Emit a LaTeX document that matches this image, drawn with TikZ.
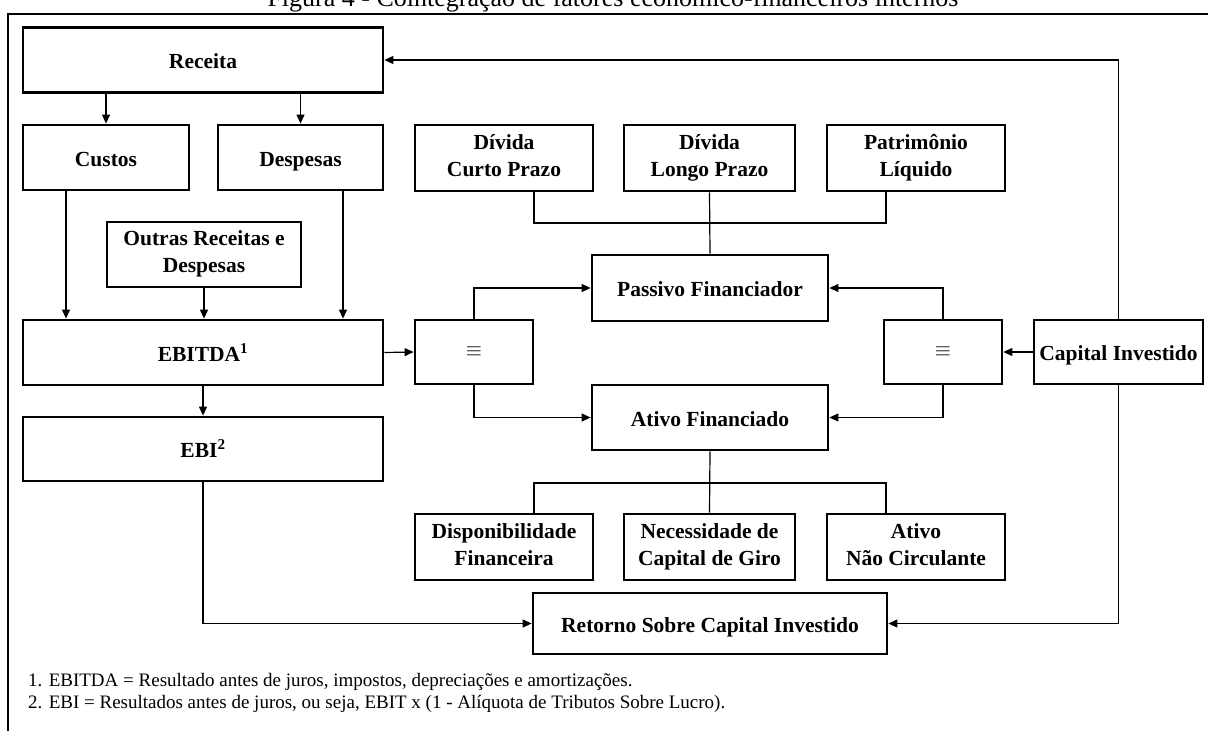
\documentclass[tikz,border=0pt]{standalone}
\usepackage{fontspec}
\setmainfont{Liberation Serif}
\usetikzlibrary{arrows.meta,calc}
\newcommand{\boxstrut}{\rule[-5pt]{0pt}{27pt}}
\begin{document}
\begin{tikzpicture}[x=1pt,y=-1pt,
  box/.style={draw, line width=2.8pt, inner sep=0pt, align=center,
    font=\fontsize{21.5}{27}\selectfont\bfseries,
    execute at begin node={\boxstrut}, execute at end node={\boxstrut}},
  eqbox/.style={draw, line width=2.8pt, inner sep=0pt,
    minimum width=118pt, minimum height=64pt, font=\fontsize{21}{24}\selectfont},
  con/.style={line width=1.2pt},
  arr/.style={con, -{Triangle[length=9pt,width=8pt]}},
  frame/.style={line width=1.8pt},
  note/.style={anchor=base west, inner sep=0pt, font=\fontsize{19}{23}\selectfont},
]
\useasboundingbox (0,0) rectangle (1208,731);
% title (cut by the page edge) and frame
\node[anchor=base, inner sep=0pt, font=\fontsize{26}{30}\selectfont] (title) at (613,6)
  {Figura 4 - Cointegração de fatores econômico-financeiros internos};
\draw[frame] (8,780) -- (8,14) -- (1240,14);

% left column
\node[box, minimum width=360pt, minimum height=65pt] (rec) at (203,60) {Receita};
\node[box, minimum width=166pt, minimum height=65pt] (cus) at (106,157.5) {Custos};
\node[box, minimum width=165pt, minimum height=65pt] (des) at (300.5,157.5) {Despesas};
\node[box, minimum width=194pt, minimum height=65pt] (out) at (204,254.5) {Outras Receitas e\\Despesas};
\node[box, minimum width=360pt, minimum height=65pt] (ebitda) at (203,352.5) {EBITDA\textsuperscript{1}};
\node[box, minimum width=360pt, minimum height=64pt] (ebi) at (203,449) {EBI\textsuperscript{2}};

% right part
\node[box, minimum width=178pt, minimum height=66pt] (dcp) at (504,158) {Dívida\\Curto Prazo};
\node[box, minimum width=171pt, minimum height=66pt] (dlp) at (709.5,158) {Dívida\\Longo Prazo};
\node[box, minimum width=178pt, minimum height=66pt] (pl) at (916,158) {Patrimônio\\Líquido};
\node[box, minimum width=236pt, minimum height=66pt] (pf) at (710,288) {Passivo Financiador};
\node[eqbox] (eqL) at (474,352) {$\equiv$};
\node[eqbox] (eqR) at (943,352) {$\equiv$};
\node[box, minimum width=169pt, minimum height=64pt] (ci) at (1118.5,352) {Capital Investido};
\node[box, minimum width=236pt, minimum height=65pt] (af) at (710,417.5) {Ativo Financiado};
\node[box, minimum width=178pt, minimum height=66pt] (disp) at (504,547) {Disponibilidade\\Financeira};
\node[box, minimum width=171pt, minimum height=66pt] (ncg) at (709.5,547) {Necessidade de\\Capital de Giro};
\node[box, minimum width=178pt, minimum height=66pt] (anc) at (916,547) {Ativo\\Não Circulante};
\node[box, minimum width=354pt, minimum height=61pt] (ret) at (710,623.5) {Retorno Sobre Capital Investido};

% helper coordinates
\coordinate (cx) at (66,0);
\coordinate (dx) at (343,0);
\coordinate (l1) at (534,223);
\coordinate (l3) at (886,223);
\coordinate (m1) at (534,483);
\coordinate (m3) at (886,483);

% connectors
\draw[arr] (cus.north |- rec.south) -- (cus.north);
\draw[arr] (des.north |- rec.south) -- (des.north);
\draw[arr] (cus.south -| cx) -- (ebitda.north -| cx);
\draw[arr] (des.south -| dx) -- (ebitda.north -| dx);
\draw[arr] (out.south) -- (out.south |- ebitda.north);
\draw[arr] (ebitda.south) -- (ebi.north);
\draw[arr] (ebitda.east) -- (eqL.west);
\draw[arr] (eqL.north) |- (pf.west);
\draw[arr] (eqL.south) |- (af.west);
\draw[arr] (ci.west) -- (eqR.east);
\draw[arr] (eqR.north) |- (pf.east);
\draw[arr] (eqR.south) |- (af.east);
\draw[con] (dcp.south -| l1) -- (l1) -- (l3) -- (pl.south -| l3);
\draw[con] (dlp.south) -- (pf.north);
\draw[con] (af.south) -- (ncg.north);
\draw[con] (disp.north -| m1) -- (m1) -- (m3) -- (anc.north -| m3);
\draw[arr] (ci.north) |- (rec.east);
\draw[arr] (ci.south) |- (ret.east);
\draw[arr] (ebi.south) |- (ret.west);

% footnotes
\node[note] (fn1) at (28,686) {1. EBITDA = Resultado antes de juros, impostos, depreciações e amortizações.};
\node[note] (fn2) at (28,708) {2. EBI = Resultados antes de juros, ou seja, EBIT x (1 - Alíquota de Tributos Sobre Lucro).};
\end{tikzpicture}
\end{document}
